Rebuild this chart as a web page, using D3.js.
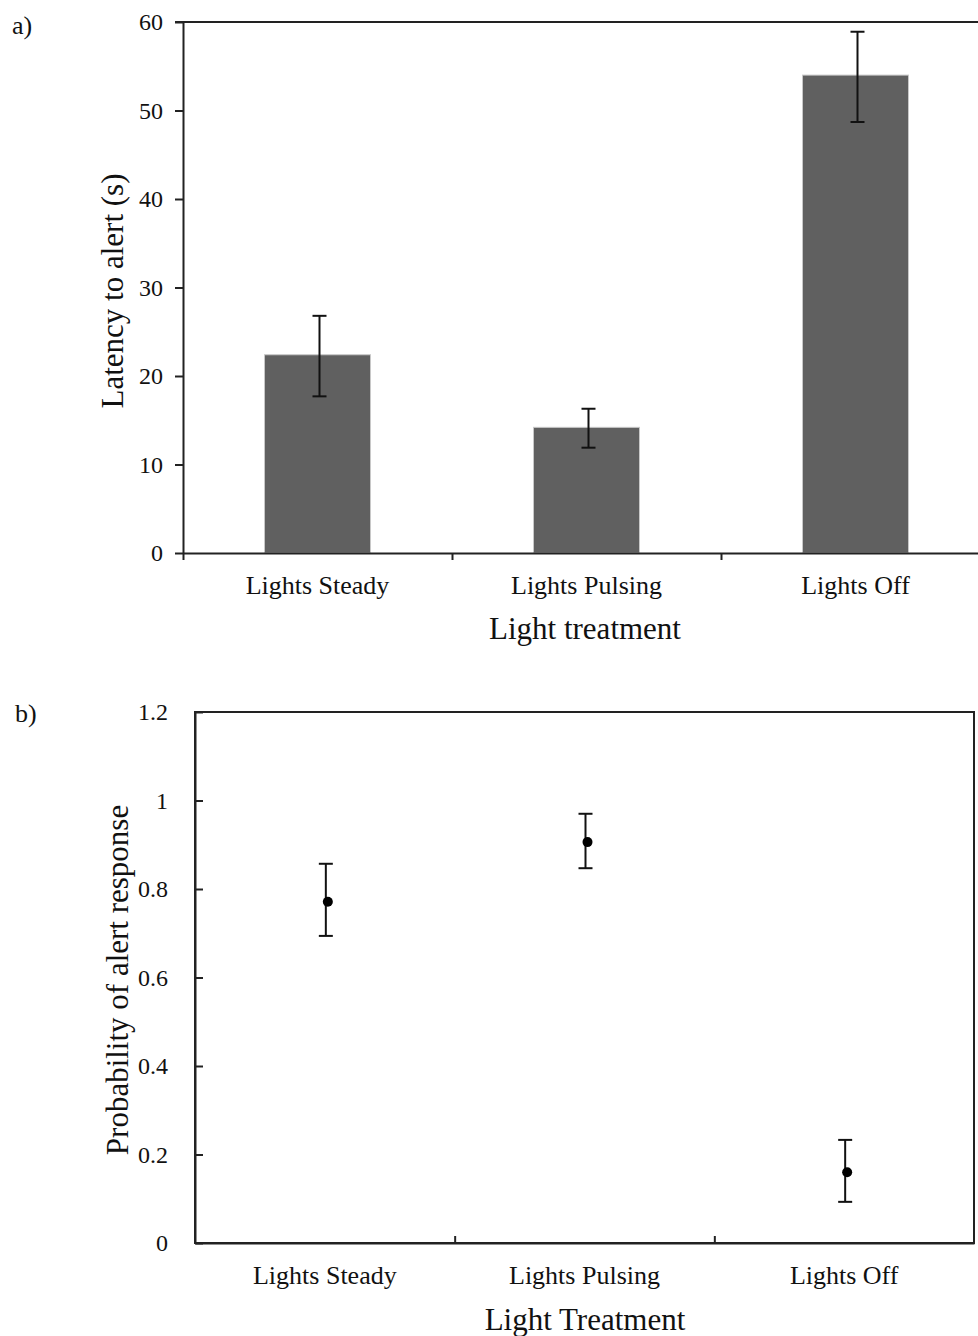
<!DOCTYPE html>
<html>
<head>
    <title>Light treatment figure</title>
    <style>
        html, body { margin: 0; padding: 0; background: #fff; }
        svg text { font-family: "Liberation Serif", "Times New Roman", serif; fill: #111; }
        .axis path, .axis line { stroke: #222; stroke-width: 2px; }
        .tick-lbl text { font-size: 24px; }
        .cat-lbl text { font-size: 26px; }
        .axis-title { font-size: 31px; }
        .panel-lbl { font-size: 26px; }
    </style>
    <script src="https://d3js.org/d3.v7.min.js"></script>
</head>
<body>
<svg id="chart"></svg>
<script>
// data
const categories = ["Lights Steady", "Lights Pulsing", "Lights Off"];
const latencyMean = [22.4, 14.2, 54.0];
const latencyLow = [17.7, 11.9, 48.7];
const latencyHigh = [26.8, 16.3, 58.9];
const latencyTicks = [0, 10, 20, 30, 40, 50, 60];

const probMean = [0.771, 0.906, 0.160];
const probLow = [0.694, 0.847, 0.093];
const probHigh = [0.857, 0.970, 0.233];
const probTicks = [0, 0.2, 0.4, 0.6, 0.8, 1, 1.2];
const probTickLabels = ["0", "0.2", "0.4", "0.6", "0.8", "1", "1.2"];

const W = 978, H = 1336;
const svg = d3.select("#chart").attr("width", W).attr("height", H);

// ---------- panel a ----------
const a = { left: 183, right: 990, top: 22, bottom: 553 };
const xa = d3.scaleBand().domain(categories).range([a.left, a.right]).padding(0);
const xaEdge = d3.scaleLinear().domain([0, categories.length]).range([a.left, a.right]);
const ya = d3.scaleLinear().domain([0, 60]).range([a.bottom, a.top]);
const barW = xa.bandwidth() * 0.394;

const ga = svg.append("g");

// top frame line
ga.append("line").attr("class", "frame")
    .attr("x1", a.left - 8).attr("x2", a.right)
    .attr("y1", ya(60)).attr("y2", ya(60))
    .attr("stroke", "#222").attr("stroke-width", 2);

ga.selectAll(".bar")
    .data(categories)
    .enter().append("rect")
    .attr("class", "bar")
    .attr("x", d => xa(d) + (xa.bandwidth() - barW) / 2)
    .attr("width", barW)
    .attr("y", (d, i) => ya(latencyMean[i]))
    .attr("height", (d, i) => ya(0) - ya(latencyMean[i]))
    .attr("fill", "#606060")
    .attr("stroke", "#c8c8c8")
    .attr("stroke-width", 1);

ga.append("g").attr("class", "axis tick-lbl")
    .attr("transform", "translate(" + a.left + ",0)")
    .call(d3.axisLeft(ya).tickValues(latencyTicks).tickSize(8).tickPadding(12).tickSizeOuter(0));

ga.append("g").attr("class", "axis")
    .attr("transform", "translate(0," + a.bottom + ")")
    .call(d3.axisBottom(xaEdge).tickValues([0, 1, 2, 3]).tickFormat("").tickSize(7).tickSizeOuter(0));

ga.append("g").attr("class", "cat-lbl")
    .attr("transform", "translate(0," + a.bottom + ")")
    .call(d3.axisBottom(xa).tickSize(0).tickPadding(23))
    .call(g => g.select(".domain").remove());

// error bars
const cap = 7;
const eba = ga.selectAll(".eb").data(categories).enter().append("g")
    .attr("stroke", "#111").attr("stroke-width", 2);
eba.append("line")
    .attr("x1", d => xa(d) + xa.bandwidth() / 2 + 2).attr("x2", d => xa(d) + xa.bandwidth() / 2 + 2)
    .attr("y1", (d, i) => ya(latencyLow[i])).attr("y2", (d, i) => ya(latencyHigh[i]));
[latencyLow, latencyHigh].forEach(arr => {
    eba.append("line")
        .attr("x1", d => xa(d) + xa.bandwidth() / 2 + 2 - cap).attr("x2", d => xa(d) + xa.bandwidth() / 2 + 2 + cap)
        .attr("y1", (d, i) => ya(arr[i])).attr("y2", (d, i) => ya(arr[i]));
});

ga.append("text").attr("class", "axis-title")
    .attr("x", 585).attr("y", 639).attr("text-anchor", "middle")
    .text("Light treatment");
ga.append("text").attr("class", "axis-title")
    .attr("transform", "translate(123,291) rotate(-90)").attr("text-anchor", "middle")
    .text("Latency to alert (s)");
ga.append("text").attr("class", "panel-lbl").attr("x", 12).attr("y", 34).text("a)");

// ---------- panel b ----------
const b = { left: 195, right: 974, top: 712, bottom: 1243 };
const xb = d3.scaleBand().domain(categories).range([b.left, b.right]).padding(0);
const xbEdge = d3.scaleLinear().domain([0, categories.length]).range([b.left, b.right]);
const yb = d3.scaleLinear().domain([0, 1.2]).range([b.bottom, b.top]);

const gb = svg.append("g");

gb.append("rect")
    .attr("x", b.left).attr("y", b.top)
    .attr("width", b.right - b.left).attr("height", b.bottom - b.top)
    .attr("fill", "none").attr("stroke", "#222").attr("stroke-width", 2);

gb.append("g").attr("class", "axis tick-lbl")
    .attr("transform", "translate(" + b.left + ",0)")
    .call(d3.axisLeft(yb).tickValues(probTicks).tickFormat((d, i) => probTickLabels[i])
        .tickSize(-8).tickPadding(27).tickSizeOuter(0));

gb.append("g").attr("class", "axis")
    .attr("transform", "translate(0," + b.bottom + ")")
    .call(d3.axisBottom(xbEdge).tickValues([1, 2]).tickFormat("").tickSize(-7).tickSizeOuter(0));

gb.append("g").attr("class", "cat-lbl")
    .attr("transform", "translate(0," + b.bottom + ")")
    .call(d3.axisBottom(xb).tickSize(0).tickPadding(23))
    .call(g => g.select(".domain").remove());

const ebb = gb.selectAll(".eb").data(categories).enter().append("g")
    .attr("stroke", "#111").attr("stroke-width", 2);
ebb.append("line")
    .attr("x1", d => xb(d) + xb.bandwidth() / 2 + 1).attr("x2", d => xb(d) + xb.bandwidth() / 2 + 1)
    .attr("y1", (d, i) => yb(probLow[i])).attr("y2", (d, i) => yb(probHigh[i]));
[probLow, probHigh].forEach(arr => {
    ebb.append("line")
        .attr("x1", d => xb(d) + xb.bandwidth() / 2 + 1 - cap).attr("x2", d => xb(d) + xb.bandwidth() / 2 + 1 + cap)
        .attr("y1", (d, i) => yb(arr[i])).attr("y2", (d, i) => yb(arr[i]));
});
gb.selectAll(".pt").data(categories).enter().append("circle")
    .attr("class", "pt")
    .attr("cx", d => xb(d) + xb.bandwidth() / 2 + 3)
    .attr("cy", (d, i) => yb(probMean[i]))
    .attr("r", 5)
    .attr("fill", "#000");

gb.append("text").attr("class", "axis-title")
    .attr("x", 585).attr("y", 1330).attr("text-anchor", "middle")
    .text("Light Treatment");
gb.append("text").attr("class", "axis-title")
    .attr("transform", "translate(128,980) rotate(-90)").attr("text-anchor", "middle")
    .text("Probability of alert response");
gb.append("text").attr("class", "panel-lbl").attr("x", 15).attr("y", 722).text("b)");
</script>
</body>
</html>
